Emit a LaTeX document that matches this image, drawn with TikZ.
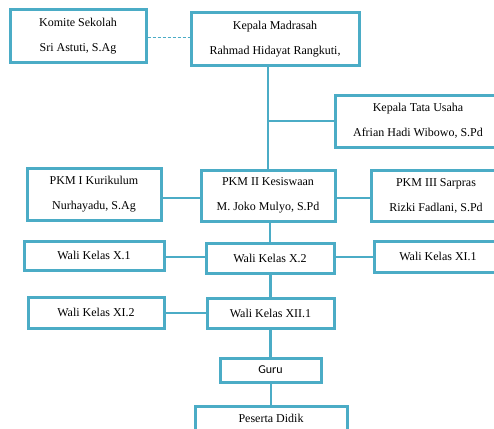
\documentclass[tikz,border=0pt]{standalone}
\usepackage{fontspec}
\setmainfont{Liberation Serif}
\newfontfamily\gurufont{Carlito}
\definecolor{biru}{RGB}{75,172,198}

\begin{document}
\begin{tikzpicture}[x=1pt, y=-1pt,
		jabatan/.style={draw=biru, line width=3pt, inner sep=0pt, align=center,
			font=\fontsize{12}{25}\selectfont},
		garis/.style={draw=biru, line width=2.5pt},
		putus/.style={draw=biru, line width=1pt, dash pattern=on 3pt off 2pt}]
		\useasboundingbox (0, 0) rectangle (494, 428);
		\clip (0, 0) rectangle (494, 428);

		\node[jabatan, minimum width=136, minimum height=52] (komite) at (78, 36) {Komite Sekolah\\Sri Astuti, S.Ag};
		\node[jabatan, minimum width=168, minimum height=52] (kepala) at (275, 39) {Kepala Madrasah\\Rahmad Hidayat Rangkuti,};
		\node[jabatan, minimum width=166, minimum height=52] (ktu) at (418, 121) {Kepala Tata Usaha\\Afrian Hadi Wibowo, S.Pd};

		\node[jabatan, minimum width=134, minimum height=52] (pkma) at (94, 194) {PKM I Kurikulum\\Nurhayadu, S.Ag};
		\node[jabatan, minimum width=134, minimum height=51] (pkmb) at (268, 195.5) {PKM II Kesiswaan\\M. Joko Mulyo, S.Pd};
		\node[jabatan, minimum width=130, minimum height=51] (pkmc) at (436, 195.5) {PKM III Sarpras\\Rizki Fadlani, S.Pd};

		\node[jabatan, minimum width=140, minimum height=29] (xa) at (94, 255.5) {Wali Kelas X.1};
		\node[jabatan, minimum width=128, minimum height=30] (xb) at (270, 258) {Wali Kelas X.2};
		\node[jabatan, minimum width=128, minimum height=31] (xia) at (438, 256.5) {Wali Kelas XI.1};
		\node[jabatan, minimum width=136, minimum height=31] (xib) at (96, 312.5) {Wali Kelas XI.2};
		\node[jabatan, minimum width=127, minimum height=30] (xiia) at (270.5, 313) {Wali Kelas XII.1};

		\node[jabatan, minimum width=101, minimum height=24, font=\gurufont\fontsize{12}{14}\selectfont] (guru) at (270.5, 370) {Guru};
		\node[jabatan, minimum width=152, minimum height=44, anchor=north] (siswa) at (271, 405) {};
		\node[font=\fontsize{12}{14}\selectfont] (siswateks) at (271, 418) {Peserta Didik};

		% garis komando
		\draw[putus] (komite.east |- 0, 38) -- (kepala.west |- 0, 38);
		\draw[garis] (pkmb.north |- kepala.south) -- (pkmb.north);
		\draw[garis] (ktu.west) -- (ktu.west -| pkmb.north);
		\draw[garis] (pkma.east |- 0, 198) -- (pkmb.west |- 0, 198);
		\draw[garis] (pkmb.east |- 0, 198) -- (pkmc.west |- 0, 198);
		\draw[garis] (xb.north |- pkmb.south) -- (xb.north);
		\draw[garis] (xa.east |- 0, 257) -- (xb.west |- 0, 257);
		\draw[garis] (xb.east |- 0, 257) -- (xia.west |- 0, 257);
		\draw[garis] (xiia.north |- xb.south) -- (xiia.north);
		\draw[garis] (xib.east |- 0, 313) -- (xiia.west |- 0, 313);
		\draw[garis] (guru.north |- xiia.south) -- (guru.north);
		\draw[garis] (siswa.north |- guru.south) -- (siswa.north);
\end{tikzpicture}
\end{document}
